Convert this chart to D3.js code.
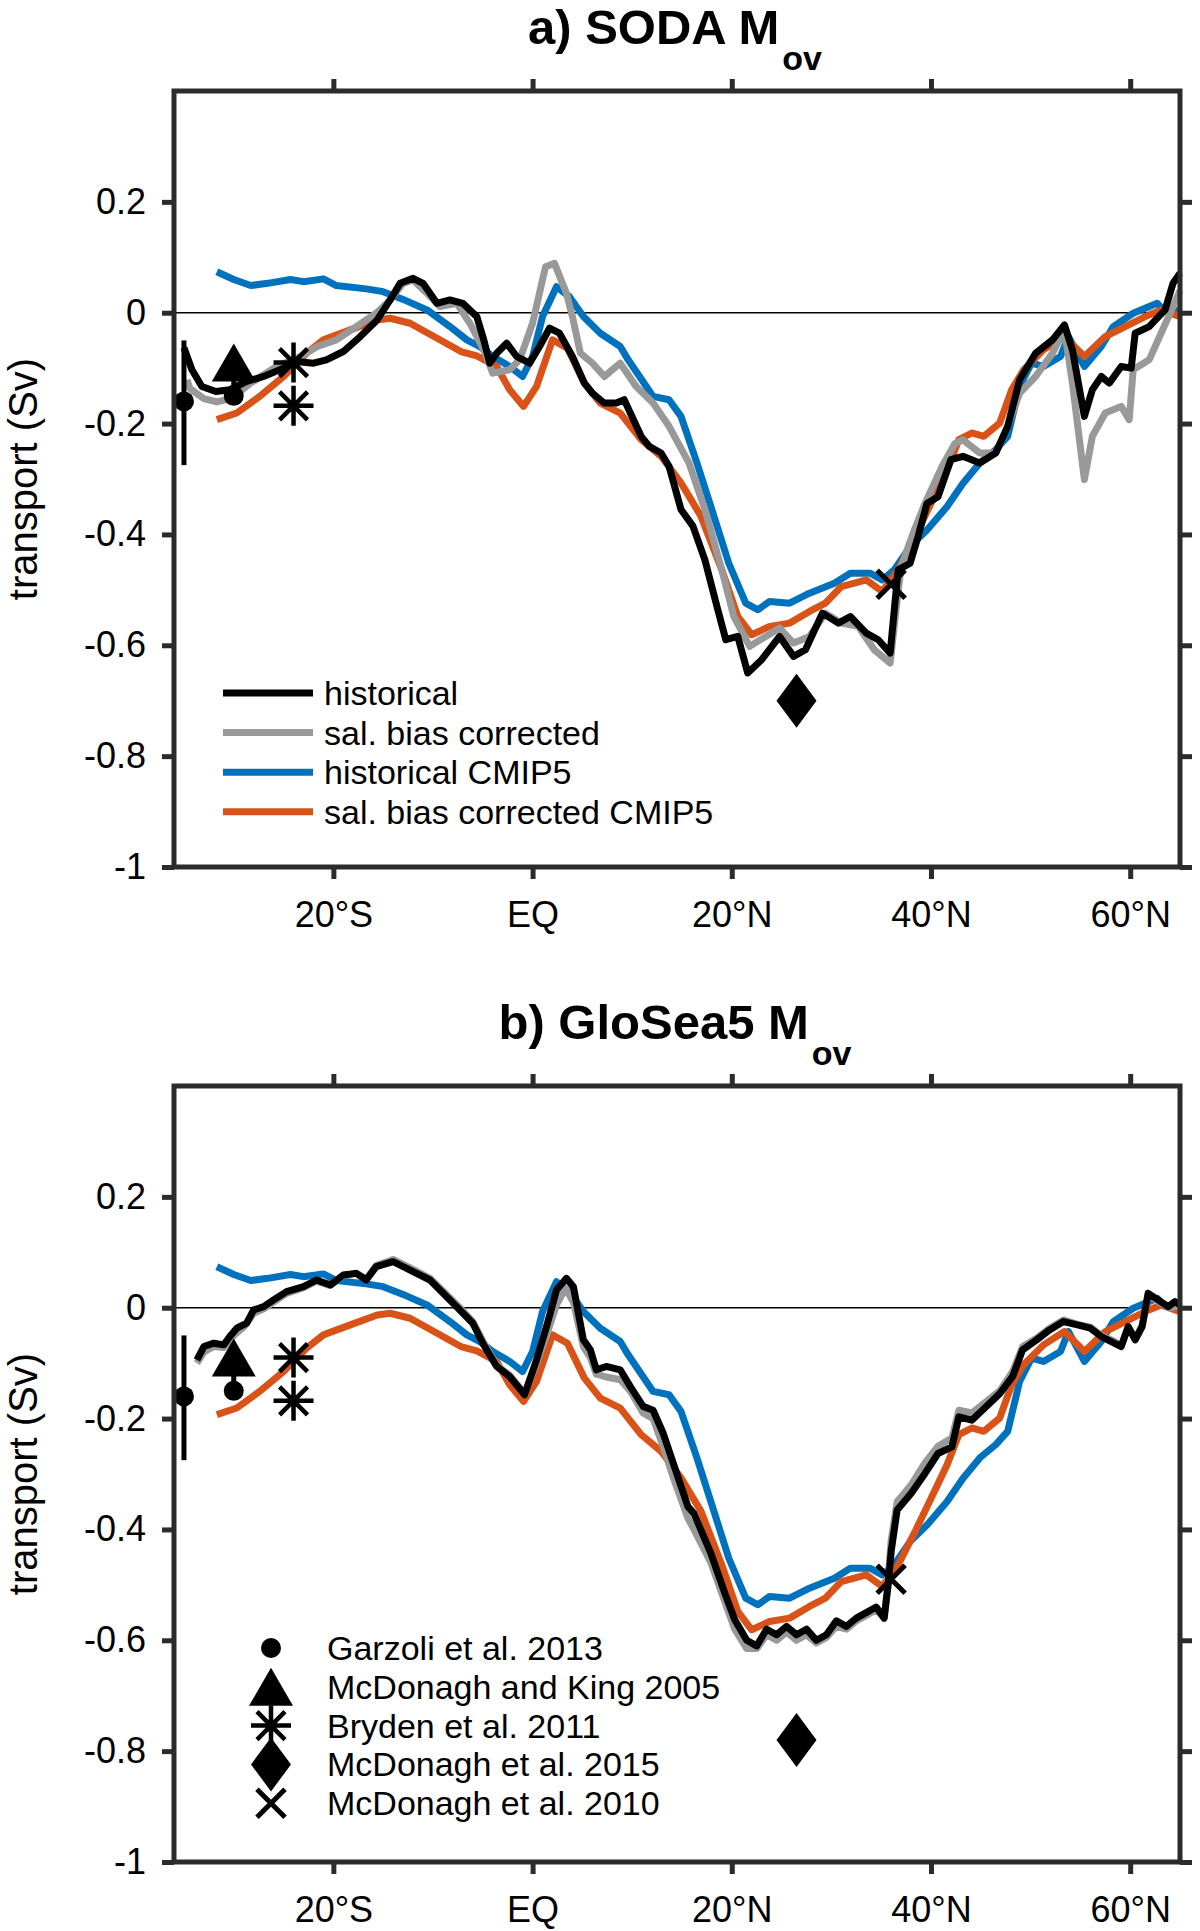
<!DOCTYPE html>
<html>
<head>
<meta charset="utf-8">
<script src="https://cdn.jsdelivr.net/npm/d3@7"></script>
<style>
  body { margin: 0; background: #fff; }
  svg text { font-family: "Liberation Sans", Arial, sans-serif; fill: #000; }
</style>
</head>
<body>
<div id="chart"></div>
<script>
// x ticks (latitude) and y ticks (Sv)
const latTicks = [-20, 0, 20, 40, 60]
const latLabels = ["20°S", "EQ", "20°N", "40°N", "60°N"]
const svTicks = [0.2, 0, -0.2, -0.4, -0.6, -0.8, -1]

// CMIP5 curves are the same in both panels: [lat, Sv]
const cmip5Historical = [[-31.7,0.074],[-30.0,0.060],[-28.3,0.049],[-26.6,0.053],[-24.3,0.060],[-23.0,0.056],[-21.0,0.061],[-19.7,0.049],[-16.7,0.043],[-15.0,0.038],[-13.0,0.024],[-10.6,0.005],[-8.3,-0.025],[-6.6,-0.049],[-5.3,-0.061],[-4.0,-0.079],[-2.3,-0.097],[-1.0,-0.115],[0.0,-0.079],[1.0,-0.007],[2.4,0.047],[3.7,0.029],[5.1,-0.007],[6.8,-0.037],[8.8,-0.061],[9.6,-0.085],[12.1,-0.151],[13.7,-0.157],[14.9,-0.187],[16.5,-0.271],[18.1,-0.361],[19.7,-0.452],[21.4,-0.524],[22.6,-0.536],[23.8,-0.521],[25.8,-0.524],[27.8,-0.506],[30.3,-0.488],[31.9,-0.470],[33.9,-0.470],[35.1,-0.482],[36.3,-0.464],[37.9,-0.422],[39.6,-0.392],[41.6,-0.350],[43.2,-0.308],[44.9,-0.271],[46.5,-0.247],[47.7,-0.223],[48.9,-0.133],[50.1,-0.091],[51.3,-0.097],[53.0,-0.079],[53.8,-0.043],[55.4,-0.097],[57.1,-0.061],[58.3,-0.025],[60.3,-0.001],[62.7,0.017],[63.5,0.002],[65,0.005]]
const cmip5SalCorrected = [[-31.7,-0.193],[-29.7,-0.181],[-27.4,-0.151],[-25.0,-0.115],[-22.7,-0.073],[-21.0,-0.049],[-18.3,-0.031],[-15.6,-0.013],[-14.3,-0.010],[-12.3,-0.019],[-9.9,-0.043],[-7.2,-0.070],[-5.6,-0.078],[-3.6,-0.097],[-2.3,-0.139],[-0.9,-0.169],[0.4,-0.133],[2.0,-0.049],[3.5,-0.064],[5.2,-0.127],[6.8,-0.163],[8.8,-0.181],[10.9,-0.229],[12.9,-0.259],[14.9,-0.307],[16.9,-0.367],[19.0,-0.464],[20.6,-0.548],[22.0,-0.581],[23.8,-0.566],[25.8,-0.560],[27.8,-0.539],[29.4,-0.524],[31.0,-0.494],[33.5,-0.482],[35.1,-0.503],[36.7,-0.464],[38.4,-0.404],[40.0,-0.344],[41.6,-0.284],[42.8,-0.229],[44.1,-0.217],[45.3,-0.223],[46.9,-0.199],[48.1,-0.139],[49.3,-0.103],[51.3,-0.067],[53.4,-0.043],[55.4,-0.079],[57.5,-0.043],[59.5,-0.025],[61.5,-0.007],[63.1,0.005],[65,-0.007]]

// SODA
const sodaHistorical = [[-35.0,-0.063],[-34.2,-0.103],[-33.2,-0.133],[-31.8,-0.142],[-30.4,-0.139],[-28.7,-0.124],[-27.0,-0.115],[-25.0,-0.100],[-23.7,-0.088],[-22.0,-0.091],[-20.7,-0.085],[-19.0,-0.070],[-17.3,-0.043],[-15.6,-0.013],[-14.3,0.023],[-13.3,0.053],[-12.0,0.062],[-11.0,0.053],[-9.6,0.017],[-8.3,0.023],[-7.0,0.017],[-5.6,-0.007],[-4.9,-0.049],[-4.3,-0.091],[-3.6,-0.073],[-2.6,-0.055],[-1.6,-0.079],[-0.3,-0.091],[0.7,-0.061],[1.7,-0.028],[2.7,-0.037],[4.0,-0.079],[5.2,-0.127],[6.0,-0.145],[7.2,-0.163],[8.4,-0.163],[9.2,-0.157],[10.9,-0.223],[11.7,-0.241],[12.9,-0.253],[13.7,-0.277],[14.9,-0.355],[16.1,-0.385],[17.3,-0.446],[18.6,-0.536],[19.4,-0.590],[20.6,-0.584],[21.6,-0.650],[23.0,-0.626],[24.8,-0.584],[26.2,-0.620],[27.4,-0.608],[29.1,-0.542],[30.7,-0.560],[31.9,-0.548],[33.5,-0.578],[34.7,-0.590],[35.9,-0.614],[36.7,-0.464],[37.9,-0.452],[38.7,-0.404],[39.6,-0.344],[40.7,-0.332],[42.0,-0.265],[43.2,-0.259],[44.9,-0.271],[46.5,-0.253],[47.7,-0.205],[48.9,-0.121],[50.5,-0.073],[52.2,-0.049],[53.4,-0.022],[54.2,-0.067],[55.4,-0.187],[56.2,-0.139],[57.1,-0.115],[57.9,-0.127],[59.1,-0.097],[60.1,-0.100],[60.5,-0.037],[61.9,-0.025],[63.5,0.005],[64.3,0.053],[65,0.071]]
const sodaSalCorrected = [[-34.7,-0.121],[-34.4,-0.137],[-33.0,-0.155],[-31.7,-0.161],[-30.3,-0.155],[-28.3,-0.127],[-25.7,-0.097],[-23.3,-0.079],[-21.6,-0.061],[-19.7,-0.049],[-17.7,-0.025],[-15.7,-0.001],[-14.3,0.023],[-13.0,0.053],[-12.0,0.059],[-10.6,0.035],[-9.3,0.011],[-7.6,0.017],[-6.3,-0.019],[-4.9,-0.067],[-4.0,-0.109],[-2.3,-0.103],[-1.3,-0.085],[0.0,-0.019],[1.3,0.083],[2.2,0.089],[3.4,0.035],[4.0,-0.007],[4.8,-0.073],[6.0,-0.091],[7.2,-0.115],[8.8,-0.091],[10.4,-0.133],[12.1,-0.163],[13.7,-0.205],[15.7,-0.271],[17.3,-0.355],[19.0,-0.464],[20.2,-0.548],[21.8,-0.602],[23.4,-0.584],[24.8,-0.569],[26.2,-0.596],[27.8,-0.584],[29.4,-0.542],[31.0,-0.560],[32.7,-0.566],[34.3,-0.608],[35.9,-0.632],[36.4,-0.550],[37.0,-0.458],[38.2,-0.398],[39.4,-0.344],[41.1,-0.278],[42.4,-0.236],[43.2,-0.229],[44.9,-0.253],[46.5,-0.253],[47.7,-0.205],[48.9,-0.145],[50.5,-0.115],[52.2,-0.073],[53.4,-0.031],[54.2,-0.127],[55.4,-0.301],[56.2,-0.223],[57.5,-0.181],[59.1,-0.169],[59.9,-0.193],[60.3,-0.103],[61.9,-0.085],[63.1,-0.037],[64.3,0.011],[65,0.040]]

// GloSea5
const gloHistorical = [[-33.7,-0.094],[-33.0,-0.070],[-32.0,-0.064],[-31.0,-0.067],[-30.4,-0.052],[-29.7,-0.037],[-28.7,-0.028],[-28.0,-0.004],[-27.0,0.002],[-26.0,0.014],[-24.7,0.029],[-23.0,0.038],[-21.7,0.050],[-20.3,0.041],[-19.0,0.059],[-17.7,0.062],[-16.7,0.050],[-15.7,0.074],[-14.0,0.083],[-12.3,0.068],[-10.3,0.050],[-8.3,0.014],[-7.3,-0.004],[-6.0,-0.028],[-5.0,-0.064],[-3.6,-0.106],[-2.3,-0.124],[-0.8,-0.157],[0.4,-0.094],[1.4,-0.034],[2.4,0.032],[3.4,0.053],[4.1,0.038],[5.1,-0.058],[5.8,-0.076],[6.4,-0.112],[7.4,-0.106],[8.8,-0.112],[9.8,-0.142],[11.1,-0.178],[12.1,-0.185],[13.1,-0.226],[14.3,-0.290],[15.6,-0.359],[16.2,-0.371],[17.9,-0.443],[19.3,-0.515],[20.3,-0.563],[21.5,-0.600],[22.5,-0.610],[23.5,-0.580],[24.5,-0.590],[25.5,-0.575],[26.5,-0.590],[27.5,-0.580],[28.5,-0.600],[29.5,-0.590],[30.5,-0.565],[31.5,-0.575],[32.5,-0.560],[33.5,-0.550],[34.5,-0.540],[35.3,-0.560],[35.7,-0.500],[36.0,-0.440],[36.6,-0.365],[38.0,-0.335],[39.4,-0.299],[40.7,-0.263],[42.1,-0.251],[42.8,-0.197],[44.1,-0.203],[45.5,-0.179],[46.9,-0.155],[48.2,-0.124],[49.2,-0.076],[50.6,-0.058],[51.9,-0.040],[53.3,-0.025],[54.7,-0.031],[56.0,-0.037],[57.1,-0.052],[58.1,-0.061],[59.1,-0.070],[59.8,-0.034],[60.5,-0.058],[61.2,-0.034],[61.8,0.026],[62.8,0.014],[63.8,0.002],[64.5,0.011],[65,0.005]]
const gloSalCorrected = [[-33.7,-0.100],[-33.0,-0.080],[-32.0,-0.070],[-31.0,-0.072],[-30.0,-0.050],[-29.0,-0.035],[-28.0,-0.010],[-27.0,-0.002],[-26.0,0.010],[-24.7,0.026],[-23.0,0.036],[-21.7,0.048],[-20.3,0.040],[-19.0,0.058],[-17.7,0.062],[-16.7,0.052],[-15.7,0.076],[-14.0,0.087],[-12.3,0.072],[-10.3,0.053],[-8.3,0.018],[-7.3,0.000],[-6.0,-0.025],[-5.0,-0.060],[-3.6,-0.104],[-2.3,-0.122],[-0.8,-0.155],[0.4,-0.100],[1.4,-0.050],[2.4,0.005],[3.3,0.035],[4.1,0.010],[5.1,-0.070],[5.8,-0.090],[6.4,-0.120],[7.4,-0.125],[8.8,-0.130],[9.8,-0.150],[11.1,-0.190],[12.1,-0.200],[13.1,-0.250],[14.2,-0.310],[15.6,-0.380],[16.2,-0.400],[17.9,-0.460],[19.3,-0.530],[20.3,-0.580],[21.5,-0.615],[22.5,-0.615],[23.5,-0.590],[24.5,-0.600],[25.5,-0.585],[26.5,-0.600],[27.5,-0.590],[28.5,-0.605],[29.5,-0.595],[30.5,-0.575],[31.5,-0.580],[32.5,-0.565],[33.5,-0.555],[34.5,-0.545],[35.3,-0.560],[35.7,-0.490],[36.0,-0.420],[36.6,-0.350],[38.0,-0.320],[39.4,-0.280],[40.7,-0.250],[42.1,-0.235],[42.8,-0.185],[44.1,-0.190],[45.5,-0.170],[46.9,-0.150],[48.2,-0.115],[49.2,-0.070],[50.6,-0.055],[51.9,-0.037],[53.3,-0.022],[54.7,-0.030],[56.0,-0.035],[57.1,-0.050],[58.1,-0.058],[59.1,-0.068],[59.8,-0.035],[60.5,-0.055],[61.2,-0.032],[61.8,0.022],[62.8,0.012],[63.8,0.000],[65,0.004]]

// observations: [lat, Sv]
const garzoli = [[-35, -0.16], [-30, -0.15]]
const garzoliRange = [[-35, -0.275, -0.05], [-30, -0.15, -0.095]]
const mcdonaghKing = [[-30, -0.09]]
const bryden = [[-24, -0.09], [-24, -0.168]]
const mcdonagh2015A = [[26.5, -0.70]]
const mcdonagh2015B = [[26.5, -0.78]]
const mcdonagh2010 = [[36, -0.49]]

const lineNames = ["historical", "sal. bias corrected", "historical CMIP5", "sal. bias corrected CMIP5"]
const lineColors = ["#000000", "#999999", "#0072bd", "#d95319"]
const obsNames = ["Garzoli et al. 2013", "McDonagh and King 2005", "Bryden et al. 2011", "McDonagh et al. 2015", "McDonagh et al. 2010"]

const W = 1200, H = 1931
const svg = d3.select("#chart").append("svg").attr("width", W).attr("height", H)

const left = 174, plotW = 1006, plotH = 776
const xScale = d3.scaleLinear().domain([-36, 65]).range([left, left + plotW])

// marker shapes
const marker = {
  circle: g => g.append("circle").attr("r", 10).attr("fill", "#000"),
  triangle: g => g.append("path").attr("d", "M0,-19L22,19L-22,19Z").attr("fill", "#000"),
  asterisk: g => g.append("path")
      .attr("d", "M-20,0H20M0,-20V20M-14,-14L14,14M-14,14L14,-14")
      .attr("stroke", "#000").attr("stroke-width", 4.5).attr("fill", "none"),
  diamond: g => g.append("path").attr("d", "M0,-27L20,0L0,27L-20,0Z").attr("fill", "#000"),
  cross: g => g.append("path").attr("d", "M-14,-14L14,14M-14,14L14,-14")
      .attr("stroke", "#000").attr("stroke-width", 5).attr("fill", "none")
}

function drawPanel(top, title, series, diamondPts, legendType) {
  const yScale = d3.scaleLinear().domain([-1, 0.4]).range([top + plotH, top])
  const g = svg.append("g")

  // zero line
  g.append("line")
    .attr("x1", xScale.range()[0]).attr("x2", xScale.range()[1])
    .attr("y1", yScale(0)).attr("y2", yScale(0))
    .attr("stroke", "#000").attr("stroke-width", 1.6)

  const line = d3.line().x(d => xScale(d[0])).y(d => yScale(d[1]))
  // draw CMIP5 first, then the model runs on top
  const order = [2, 3, 1, 0]
  order.forEach(i => {
    g.append("path").datum(series[i])
      .attr("d", line)
      .attr("fill", "none")
      .attr("stroke", lineColors[i])
      .attr("stroke-width", 7)
      .attr("stroke-linejoin", "round")
  })

  // observation markers
  garzoliRange.forEach(r => {
    g.append("line")
      .attr("x1", xScale(r[0])).attr("x2", xScale(r[0]))
      .attr("y1", yScale(r[1])).attr("y2", yScale(r[2]))
      .attr("stroke", "#000").attr("stroke-width", 5)
  })
  const place = (pts, shape) => pts.forEach(p => {
    const m = g.append("g").attr("transform", `translate(${xScale(p[0])},${yScale(p[1])})`)
    marker[shape](m)
  })
  place(garzoli, "circle")
  place(mcdonaghKing, "triangle")
  place(bryden, "asterisk")
  place(diamondPts, "diamond")
  place(mcdonagh2010, "cross")

  // frame
  g.append("rect")
    .attr("x", left).attr("y", top).attr("width", plotW).attr("height", plotH)
    .attr("fill", "none").attr("stroke", "#2b2b2b").attr("stroke-width", 5)

  const fmtLat = d => latLabels[latTicks.indexOf(d)]
  const fmtSv = d => d === 0 ? "0" : String(d)

  const axB = g.append("g").attr("transform", `translate(0,${top + plotH})`)
    .call(d3.axisBottom(xScale).tickValues(latTicks).tickFormat(fmtLat).tickSize(12).tickPadding(22).tickSizeOuter(0))
  const axT = g.append("g").attr("transform", `translate(0,${top})`)
    .call(d3.axisTop(xScale).tickValues(latTicks).tickFormat("").tickSize(12).tickSizeOuter(0))
  const axL = g.append("g").attr("transform", `translate(${left},0)`)
    .call(d3.axisLeft(yScale).tickValues(svTicks).tickFormat(fmtSv).tickSize(12).tickPadding(16).tickSizeOuter(0))
  const axR = g.append("g").attr("transform", `translate(${left + plotW},0)`)
    .call(d3.axisRight(yScale).tickValues(svTicks).tickFormat("").tickSize(12).tickSizeOuter(0))
  ;[axB, axT, axL, axR].forEach(a => {
    a.select(".domain").remove()
    a.selectAll(".tick line").attr("stroke", "#2b2b2b").attr("stroke-width", 5)
    a.selectAll("text").attr("font-size", 36).attr("fill", "#000")
        .style("font-family", "'Liberation Sans', Arial, sans-serif")
  })

  // y label
  svg.append("text")
    .attr("transform", `translate(37,${top + plotH / 2}) rotate(-90)`)
    .attr("text-anchor", "middle")
    .attr("font-size", 40)
    .text("transport (Sv)")

  // title with subscript
  const t = svg.append("text")
    .attr("x", 675).attr("y", top - 47)
    .attr("text-anchor", "middle")
    .attr("font-weight", "bold")
  t.append("tspan").attr("font-size", 49).text(title)
  t.append("tspan").attr("font-size", 34).attr("dx", 3).attr("dy", 26).text("ov")

  // legend
  if (legendType === "lines") {
    lineNames.forEach((name, i) => {
      const ly = top + 602 + i * 39.6
      g.append("line").attr("x1", 223).attr("x2", 313).attr("y1", ly).attr("y2", ly)
        .attr("stroke", lineColors[i]).attr("stroke-width", 7)
      g.append("text").attr("x", 324).attr("y", ly + 12).attr("font-size", 34).text(name)
    })
  } else {
    const shapes = ["circle", "triangle", "asterisk", "diamond", "cross"]
    obsNames.forEach((name, i) => {
      const ly = top + 562 + i * 38.8
      const m = g.append("g").attr("transform", `translate(271,${ly})`)
      marker[shapes[i]](m)
      g.append("text").attr("x", 327).attr("y", ly + 12).attr("font-size", 34).text(name)
    })
  }
}

drawPanel(91, "a) SODA M", [sodaHistorical, sodaSalCorrected, cmip5Historical, cmip5SalCorrected], mcdonagh2015A, "lines")
drawPanel(1086, "b) GloSea5 M", [gloHistorical, gloSalCorrected, cmip5Historical, cmip5SalCorrected], mcdonagh2015B, "markers")
</script>
</body>
</html>
